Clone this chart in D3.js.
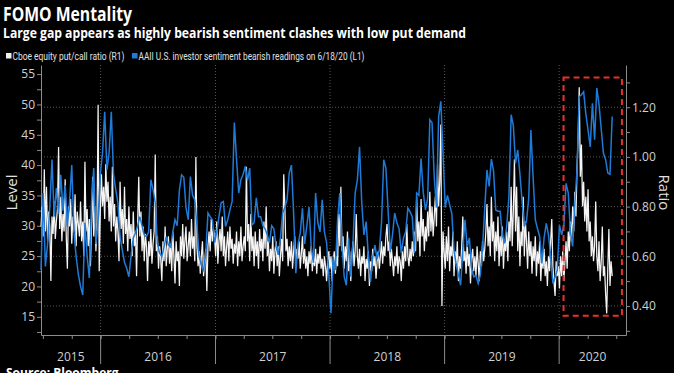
<!DOCTYPE html>
<meta charset="utf-8">
<style>

body {
  margin: 0;
  background-color: #000;
  overflow: hidden;
}

svg {
  display: block;
}

.title {
  font-family: "Open Sans", sans-serif;
  font-weight: bold;
  fill: #fff;
}

.legend text {
  font-family: "Roboto", sans-serif;
  font-size: 10.5px;
  fill: #e0e0e0;
}

.axis path,
.axis line {
  stroke: #8c8c8c;
}

.axis text {
  fill: #d0d0d0;
  font-family: "Open Sans", sans-serif;
  font-size: 12px;
}

.grid line {
  stroke: #555;
  stroke-dasharray: 1,2;
}

.putcall {
  fill: none;
  stroke: #f4f4f4;
  stroke-width: 1.25px;
}

.bearish {
  fill: none;
  stroke: #1f7ad8;
  stroke-width: 1.5px;
}

.axis-title {
  fill: #e0e0e0;
  font-family: "Open Sans", sans-serif;
  font-size: 15px;
}

</style>
<body>
<svg width="674" height="373"></svg>
<script src="https://d3js.org/d3.v7.min.js"></script>
<script>

// weekly AAII bearish readings (L1), first reading 6/25/15, last 6/18/20
var startDate = new Date(2015, 5, 25);

var bearish2015 = [22.7, 35.4, 23.3, 27, 33, 40.9, 31.5, 36.2, 32, 38.4, 32.5, 36.7, 29.9, 34, 40, 29, 24.9, 22, 20, 18.6, 30.5, 25, 21.4, 33.8, 39.5, 27, 31];
var bearish2016 = [38.5, 42, 48.8, 39.2, 42, 48.8, 38.5, 36, 33.8, 28.2, 26, 24, 23, 21.6, 25, 28, 28.8, 30, 31.5, 30, 28.5, 28.2, 29, 37.6, 36, 33.8, 27, 25.5, 24.9, 26.5, 28.2, 26.8, 26.5, 29, 31, 30, 35.9, 38.4, 38, 33, 31, 38.1, 35, 34.3, 30, 24.9, 23.5, 22.7, 25.5, 32.1, 31.5, 31];
var bearish2017 = [27.2, 29, 31.5, 33.8, 34, 29.9, 31, 32.6, 34, 47, 41, 35.4, 37.6, 38.5, 39.8, 37.5, 39.5, 30.1, 30.5, 34.6, 31.5, 31.5, 30, 29.5, 28.5, 27.2, 30, 29.5, 26.6, 25.2, 28, 32.1, 33, 34.3, 38.7, 40, 32, 22.2, 27, 28.8, 32.9, 27, 30, 33.1, 26.5, 23.9, 35.4, 30.5, 29, 34.3, 29, 27.2];
var bearish2018 = [22, 15.6, 24.9, 22.7, 31, 35.4, 27, 21.6, 20.2, 28, 21.6, 27, 35.4, 37.5, 43, 33.8, 28.5, 30.7, 25, 20.8, 24.9, 26.8, 24.5, 26, 30.5, 40.9, 39.5, 32.5, 25.7, 28.5, 32.1, 30.5, 29.5, 25.5, 28, 29, 32.9, 32.3, 31.5, 25.5, 35.4, 35, 41.1, 35.5, 32.6, 34.5, 47.5, 47, 38, 33, 48, 50.5, 42];
var bearish2019 = [33, 35, 33.5, 32, 26, 23.5, 22, 20.2, 26, 31, 26.5, 28, 23, 21.6, 21.8, 20.5, 22, 26.5, 33, 39.2, 36.5, 41, 39, 32.6, 32.4, 32.4, 28.5, 27.1, 30, 34.8, 48.3, 46.5, 40.3, 42.5, 38.5, 34, 29.9, 30.8, 34.5, 45.8, 38, 31, 29.5, 28.2, 23.8, 28, 30.4, 28.5, 25, 20.5, 21.5, 22.7];
var bearish2020 = [30.1, 28.5, 30, 37, 35.4, 29, 26.6, 33.7, 39.2, 51.3, 51.6, 52.1, 48.5, 45.8, 43, 50.2, 44.2, 52.7, 50, 46, 42, 40.9, 38.7, 38.5, 48];

// Cboe equity put/call ratio (R1), two readings a week from the same start
var putCall2015 = [0.72, 0.80, 0.68, 0.95, 0.70, 0.88, 0.66, 0.78, 0.72, 0.50, 0.76, 0.69, 0.82, 0.67, 0.74, 0.79, 1.04, 0.71, 0.84, 0.66, 0.77, 0.70, 0.91, 0.68, 0.55, 0.80, 0.72, 0.83, 0.65, 0.76, 0.70, 0.85, 0.64, 0.78, 0.73, 0.68, 0.82, 0.66, 0.74, 0.60, 0.98, 0.70, 0.79, 0.64, 0.75, 0.56, 0.72, 0.92, 0.68, 0.80, 0.62, 0.74, 1.21, 0.54];
var putCall2016 = [0.78, 0.93, 0.80, 0.88, 0.75, 0.97, 0.82, 0.90, 0.74, 0.84, 0.70, 0.96, 0.72, 0.81, 0.66, 0.76, 0.70, 0.58, 0.90, 0.71, 0.79, 0.65, 0.88, 0.69, 0.75, 0.62, 0.80, 0.67, 0.73, 0.60, 0.78, 0.64, 0.70, 0.52, 0.74, 0.92, 0.68, 0.78, 0.62, 0.72, 0.58, 0.69, 0.64, 0.50, 0.66, 0.60, 0.71, 0.57, 0.65, 0.70, 1.01, 0.62, 0.68, 0.55, 0.64, 0.59, 0.50, 0.66, 0.58, 0.72, 0.56, 0.63, 0.68, 0.57, 0.65, 0.54, 0.70, 0.60, 0.49, 0.66, 0.58, 0.62, 0.48, 0.68, 0.60, 0.73, 0.59, 0.66, 0.72, 0.58, 0.64, 0.70, 0.60, 0.75, 0.63, 0.68, 0.58, 1.00, 0.64, 0.56, 0.62, 0.53, 0.60, 0.66, 0.52, 0.58, 0.63, 0.46, 0.64, 0.70, 0.62, 0.75, 0.66, 0.71];
var putCall2017 = [0.68, 0.60, 0.74, 0.57, 0.66, 0.71, 0.62, 0.76, 0.60, 0.68, 0.56, 0.64, 0.70, 0.58, 0.72, 0.63, 0.67, 0.57, 0.65, 0.61, 0.70, 0.56, 0.66, 0.60, 0.72, 0.58, 0.64, 0.68, 0.62, 0.96, 0.66, 0.73, 0.58, 0.77, 0.62, 0.68, 0.56, 0.70, 0.60, 0.66, 0.55, 0.71, 0.62, 0.67, 0.58, 0.74, 0.63, 0.80, 0.60, 0.66, 0.54, 0.63, 0.58, 0.68, 0.53, 0.62, 0.66, 0.56, 0.64, 0.52, 0.60, 0.67, 0.58, 0.93, 0.80, 0.62, 0.67, 0.56, 0.64, 0.58, 0.66, 0.55, 0.62, 0.68, 0.57, 0.63, 0.59, 0.66, 0.55, 0.61, 0.68, 0.57, 0.63, 0.55, 0.60, 0.52, 0.62, 0.57, 0.64, 0.54, 0.60, 0.56, 0.63, 0.53, 0.61, 0.57, 0.64, 0.55, 0.59, 0.52, 0.60, 0.56, 0.50, 0.58, 0.62];
var putCall2018 = [0.55, 0.60, 0.50, 0.58, 0.62, 0.53, 0.60, 0.56, 0.77, 0.64, 0.88, 0.62, 0.68, 0.55, 0.64, 0.58, 0.70, 0.54, 0.62, 0.50, 0.60, 0.66, 0.56, 0.62, 0.77, 0.60, 0.55, 0.63, 0.52, 0.60, 0.57, 0.64, 0.50, 0.59, 0.55, 0.62, 0.48, 0.58, 0.54, 0.63, 0.56, 0.60, 0.51, 0.58, 0.62, 0.55, 0.60, 0.66, 0.57, 0.64, 0.60, 0.68, 0.73, 0.62, 0.66, 0.56, 0.63, 0.58, 0.52, 0.60, 0.56, 0.64, 0.53, 0.60, 0.58, 0.50, 0.62, 0.55, 0.64, 0.58, 0.73, 0.60, 0.56, 0.63, 0.58, 0.66, 0.60, 0.70, 0.62, 0.84, 0.66, 0.74, 0.60, 0.83, 0.68, 0.75, 0.62, 0.72, 0.66, 0.78, 0.68, 0.86, 0.70, 0.80, 0.68, 0.76, 0.84, 0.72, 0.97, 0.80, 0.90, 1.13, 0.40, 0.70];
var putCall2019 = [0.62, 0.55, 0.68, 0.58, 0.72, 0.54, 0.64, 0.60, 0.70, 0.52, 0.62, 0.57, 0.66, 0.50, 0.60, 0.55, 0.64, 0.76, 0.58, 0.62, 0.53, 0.66, 0.56, 0.61, 0.49, 0.59, 0.63, 0.54, 0.60, 0.52, 0.64, 0.57, 0.50, 0.62, 0.56, 0.66, 0.58, 0.63, 0.70, 0.81, 0.64, 0.72, 0.60, 0.84, 0.66, 0.74, 0.58, 0.70, 0.62, 0.76, 0.56, 0.68, 0.60, 0.72, 0.55, 0.66, 0.62, 0.70, 0.58, 0.74, 0.66, 0.88, 0.64, 0.78, 0.99, 0.70, 0.88, 0.62, 0.76, 0.56, 0.70, 0.64, 0.84, 0.60, 0.74, 0.66, 0.55, 0.70, 0.60, 0.66, 0.53, 0.64, 0.58, 0.68, 0.52, 0.62, 0.57, 0.66, 0.50, 0.60, 0.55, 0.63, 0.52, 0.58, 0.48, 0.60, 0.54, 0.66, 0.75, 0.56, 0.50, 0.44, 0.58, 0.52];
var putCall2020 = [0.56, 0.47, 0.60, 0.52, 0.62, 0.50, 0.58, 0.66, 0.55, 0.70, 0.62, 0.74, 0.66, 0.80, 0.70, 0.86, 0.76, 0.96, 1.08, 1.28, 0.92, 1.05, 0.80, 0.90, 0.74, 0.84, 0.70, 0.87, 0.66, 0.74, 0.60, 0.68, 0.58, 0.64, 0.82, 0.60, 0.54, 0.66, 0.50, 0.58, 0.72, 0.52, 0.56, 0.45, 0.37, 0.55, 0.71, 0.48, 0.58, 0.52];

var yearLabels = ["2015", "2016", "2017", "2018", "2019", "2020"];
var levelTicks = d3.range(12.5, 56, 2.5);
var ratioTicks = d3.range(3, 14).map(function(d) { return d / 10; });

// the box drawn round the 2020 gap
var highlight = {from: new Date(2020, 0, 15), to: new Date(2020, 6, 19), low: 0.36, high: 1.32};

var bearish = [].concat(bearish2015, bearish2016, bearish2017, bearish2018, bearish2019, bearish2020)
  .map(function(v, i) { return {date: d3.timeDay.offset(startDate, i * 7), value: v}; });

var putCall = [].concat(putCall2015, putCall2016, putCall2017, putCall2018, putCall2019, putCall2020)
  .map(function(v, i) { return {date: d3.timeHour.offset(startDate, i * 84), value: v}; });

var svg = d3.select("svg"),
    margin = {top: 65, right: 48, bottom: 38, left: 41},
    width = +svg.attr("width") - margin.left - margin.right,
    height = +svg.attr("height") - margin.top - margin.bottom;

// titles and legend
svg.append("text")
    .attr("class", "title")
    .attr("x", 3)
    .attr("y", 20.5)
    .style("font-size", "19.5px")
    .attr("textLength", 129)
    .attr("lengthAdjust", "spacingAndGlyphs")
    .text("FOMO Mentality");

svg.append("text")
    .attr("class", "title")
    .attr("x", 3)
    .attr("y", 37.5)
    .style("font-size", "14px")
    .attr("textLength", 463)
    .attr("lengthAdjust", "spacingAndGlyphs")
    .text("Large gap appears as highly bearish sentiment clashes with low put demand");

var legend = svg.append("g").attr("class", "legend");
var legendItems = [
  {label: "Cboe equity put/call ratio (R1)", color: "#f0f0f0", x: 6, w: 112},
  {label: "AAII U.S. investor sentiment bearish readings on 6/18/20 (L1)", color: "#1f7ad8", x: 132, w: 226}
];
legendItems.forEach(function(d) {
  legend.append("rect")
      .attr("x", d.x).attr("y", 53)
      .attr("width", 5.5).attr("height", 5.5)
      .style("fill", d.color);
  legend.append("text")
      .attr("x", d.x + 6.5).attr("y", 59.5)
      .attr("textLength", d.w)
      .attr("lengthAdjust", "spacingAndGlyphs")
      .text(d.label);
});

var g = svg.append("g").attr("transform", "translate(" + margin.left + "," + margin.top + ")");

var x = d3.scaleTime()
    .domain([startDate, new Date(2020, 7, 1)])
    .range([0, width]);

var yL = d3.scaleLinear()
    .domain([12, 56.5])
    .range([height, 0]);

var yR = d3.scaleLinear()
    .domain([0.283, 1.37])
    .range([height, 0]);

var years = d3.timeYear.range(d3.timeYear.ceil(x.domain()[0]), x.domain()[1]);

// dotted grid: right-axis labels and year starts
var grid = g.append("g").attr("class", "grid");
grid.selectAll(".h")
    .data(ratioTicks.filter(function(d, i) { return i % 2 === 1; }))
  .enter().append("line")
    .attr("x1", 0).attr("x2", width)
    .attr("y1", function(d) { return yR(d); })
    .attr("y2", function(d) { return yR(d); });
grid.selectAll(".v")
    .data(years)
  .enter().append("line")
    .attr("x1", function(d) { return x(d); })
    .attr("x2", function(d) { return x(d); })
    .attr("y1", 0).attr("y2", height);

// x axis: quarter ticks, year separators, year names
var xGroup = g.append("g")
    .attr("class", "axis axis--x")
    .attr("transform", "translate(0," + height + ")")
    .call(d3.axisBottom(x)
      .tickValues(d3.timeMonth.every(3).range(x.domain()[0], x.domain()[1]))
      .tickFormat("")
      .tickSizeInner(4)
      .tickSizeOuter(0));

xGroup.selectAll(".sep")
    .data(years)
  .enter().append("line")
    .attr("x1", function(d) { return x(d); })
    .attr("x2", function(d) { return x(d); })
    .attr("y1", 0).attr("y2", 29);

var bounds = [x.domain()[0]].concat(years, [x.domain()[1]]);
xGroup.selectAll(".year")
    .data(yearLabels)
  .enter().append("text")
    .attr("x", function(d, i) { return (x(bounds[i]) + x(bounds[i + 1])) / 2; })
    .attr("y", 26)
    .attr("text-anchor", "middle")
    .text(function(d) { return d; });

// left axis (Level)
g.append("g")
    .attr("class", "axis axis--left")
    .call(d3.axisLeft(yL)
      .tickValues(levelTicks)
      .tickFormat(function(d) { return d % 5 === 0 ? d : ""; })
      .tickSizeInner(4)
      .tickSizeOuter(0)
      .tickPadding(2));

// right axis (Ratio)
g.append("g")
    .attr("class", "axis axis--right")
    .attr("transform", "translate(" + width + ",0)")
    .call(d3.axisRight(yR)
      .tickValues(ratioTicks)
      .tickFormat(function(d, i) { return i % 2 === 1 ? d3.format(".2f")(d) : ""; })
      .tickSizeInner(4)
      .tickSizeOuter(0)
      .tickPadding(2));

// series
g.append("path")
    .datum(putCall)
    .attr("class", "putcall")
    .attr("d", d3.line()
      .x(function(d) { return x(d.date); })
      .y(function(d) { return yR(d.value); }));

g.append("path")
    .datum(bearish)
    .attr("class", "bearish")
    .attr("d", d3.line()
      .x(function(d) { return x(d.date); })
      .y(function(d) { return yL(d.value); }));

// red dashed box
g.append("rect")
    .attr("x", x(highlight.from))
    .attr("y", yR(highlight.high))
    .attr("width", x(highlight.to) - x(highlight.from))
    .attr("height", yR(highlight.low) - yR(highlight.high))
    .style("fill", "none")
    .style("stroke", "#e8302c")
    .style("stroke-width", 2)
    .style("stroke-dasharray", "6,4");

// axis titles
svg.append("text")
    .attr("class", "axis-title")
    .attr("transform", "translate(16.5," + (margin.top + yL(35.5)) + ") rotate(-90)")
    .attr("text-anchor", "middle")
    .text("Level");

svg.append("text")
    .attr("class", "axis-title")
    .attr("transform", "translate(658.5," + (margin.top + yL(35.5)) + ") rotate(90)")
    .attr("text-anchor", "middle")
    .text("Ratio");

svg.append("text")
    .attr("class", "title")
    .attr("x", 6)
    .attr("y", 377)
    .style("font-size", "12px")
    .text("Source: Bloomberg");

</script>
</body>
